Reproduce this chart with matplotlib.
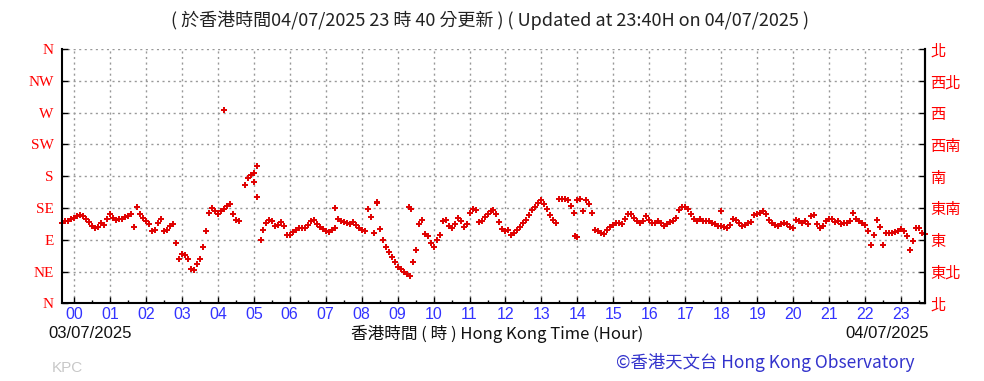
import numpy as np
import matplotlib
matplotlib.use("Agg")
import matplotlib.pyplot as plt

nan = np.nan
# wind direction (degrees, 0 = N) sampled every 5 minutes from 23:40 (03/07) to 23:40 (04/07)
pre = [113, 117, 116, 119]
h00 = [121, 123, 125, 124, 120, 115, 110, 107, 108, 114, 111, 120]
h01 = [127, 121, 118, 119, 120, 122, 124, 126, 108, 137, 127, 121]
h02 = [116, 112, 103, 104, 114, 119, 102, 104, 110, 112, 85, 63]
h03 = [70, 68, 63, 48, 47, 55, 63, 80, 102, 128, 135, 131]
h04 = [127, 131, 133, 138, 140, 127, 118, 116, nan, 168, 178, 182]
h05 = [184, 150, nan, 104, 114, 118, 116, 110, 111, 115, 110, 96]
h06 = [97, 101, 104, 107, 106, 106, 111, 116, 118, 112, 108, 105]
h07 = [102, 101, 104, 106, 120, 116, 115, 113, 112, 115, 111, 107]
h08 = [104, 102, 134, 122, 100, 142, 105, 90, 79, 72, 66, 58]
h09 = [52, 49, 45, 41, 38, 58, 75, 112, 118, 98, 95, 85]
h10 = [80, 90, 97, 116, 118, 110, 106, 112, 121, 116, 108, 112]
h11 = [128, 133, 132, 115, 117, 122, 127, 130, 132, 126, 115, 105]
h12 = [102, 104, 97, 100, 104, 108, 113, 118, 125, 132, 137, 142]
h13 = [146, 140, 133, 125, 118, 113, 147, 148, 148, 146, 138, 128]
h14 = [146, 147, 130, 146, 140, 128, 104, 103, 100, 98, 104, 108]
h15 = [111, 113, 114, 112, 120, 127, 126, 121, 116, 114, 116, 124]
h16 = [118, 113, 113, 116, 114, 110, 112, 115, 116, 121, 132, 137]
h17 = [136, 133, 127, 119, 117, 119, 116, 116, 116, 114, 112, 109]
h18 = [109, 108, 107, 111, 119, 118, 113, 110, 111, 114, 115, 125]
h19 = [127, 128, 130, 126, 118, 114, 111, 109, 112, 114, 112, 108]
h20 = [106, 118, 116, 114, 116, 112, 123, 125, 112, 106, 110, 117]
h21 = [119, 119, 115, 116, 112, 114, 114, 117, 128, 120, 116, 114]
h22 = [111, 103, 82, 96, 118, 108, 82, 100, 100, 99, 101, 103]
h23 = [105, 103, 95, 75, 88, 106, 107, 100, 98]

# isolated readings (hour, degrees)
extra_hours = [4.18, 5.02, 5.09, 5.20, 7.27, 8.43, 9.33, 9.37, 13.92, 14.00, 18.00]
extra_dirs = [274, 172, 194, 90, 135, 144, 137, 134, 95, 94, 130]

hour_labels = ["%02d" % h for h in range(24)]
left_labels = ["N", "NE", "E", "SE", "S", "SW", "W", "NW", "N"]
right_labels = ["北", "東北", "東", "東南", "南", "西南", "西", "西北", "北"]

dirs = np.array(pre + h00 + h01 + h02 + h03 + h04 + h05 + h06 + h07 + h08 + h09 + h10 +
                h11 + h12 + h13 + h14 + h15 + h16 + h17 + h18 + h19 + h20 + h21 + h22 + h23,
                dtype=float)
hours = (-20 + 5 * np.arange(len(dirs))) / 60.0

W, H = 984, 381
fig = plt.figure(figsize=(W / 100, H / 100), dpi=100)
fig.patch.set_facecolor("white")

def fx(px):
    return px / W

def fy(py):
    return 1 - py / H

ax = fig.add_axes([fx(62), fy(303.3), fx(925) - fx(62), fy(49) - fy(303.3)])
red = "#E00000"
ax.plot(hours, dirs, linestyle="none", marker="+", ms=4, mew=1.4, color=red, clip_on=False)
ax.plot(extra_hours, extra_dirs, linestyle="none", marker="+", ms=4, mew=1.4, color=red)

ax.set_xlim(-1 / 3, 23 + 2 / 3)
ax.set_ylim(0, 360)
ax.set_yticks(np.arange(0, 361, 45))
ax.set_yticklabels(left_labels, color="#FF0000", fontsize=11, family="Liberation Serif")
ax.set_xticks(np.arange(24))
ax.set_xticklabels(hour_labels, color="#3333FF", fontsize=11.5, family="Liberation Sans")
ax.set_xticks(np.arange(0, 24, 0.5), minor=True)
ax.tick_params(axis="x", which="major", direction="in", length=4, width=1, pad=3)
ax.tick_params(axis="x", which="minor", direction="in", length=2, width=1)
ax.tick_params(axis="y", direction="in", length=4, width=1, pad=6)
ax.grid(True, which="major", color="#999999", linestyle=(0, (1.5, 2.5)), linewidth=1)
for s in ["left", "right", "bottom"]:
    ax.spines[s].set_linewidth(1.5)
    ax.spines[s].set_color("black")
ax.spines["top"].set_visible(False)

ax2 = ax.twinx()
ax2.set_ylim(0, 360)
ax2.set_yticks(np.arange(0, 361, 45))
ax2.set_yticklabels(right_labels, color="#FF0000", fontsize=11,
                    family=["Noto Sans CJK TC", "DejaVu Sans"])
ax2.tick_params(axis="y", direction="in", length=4, width=1, pad=4)
for s in ["top", "left", "bottom"]:
    ax2.spines[s].set_visible(False)
ax2.spines["right"].set_linewidth(1.5)

cjk = ["Noto Sans CJK TC", "DejaVu Sans"]
fig.text(fx(490), fy(20), "( 於香港時間04/07/2025 23 時 40 分更新 ) ( Updated at 23:40H on 04/07/2025 )",
         ha="center", va="center", fontsize=13, color="#222222", family=cjk)
fig.text(fx(48), fy(334), "03/07/2025", ha="left", va="center", fontsize=12,
         color="#111111", family="Liberation Sans")
fig.text(fx(497), fy(334), "香港時間 ( 時 ) Hong Kong Time (Hour)", ha="center", va="center",
         fontsize=12, color="#111111", family=cjk)
fig.text(fx(929), fy(334), "04/07/2025", ha="right", va="center", fontsize=12,
         color="#111111", family="Liberation Sans")
fig.text(fx(915), fy(363), "©香港天文台 Hong Kong Observatory", ha="right", va="center",
         fontsize=12.5, color="#3333CC", family=cjk)
fig.text(fx(52), fy(368), "KPC", ha="left", va="center", fontsize=11,
         color="#C8C8C8", family="Liberation Sans")

fig.savefig("out.png", dpi=100)
